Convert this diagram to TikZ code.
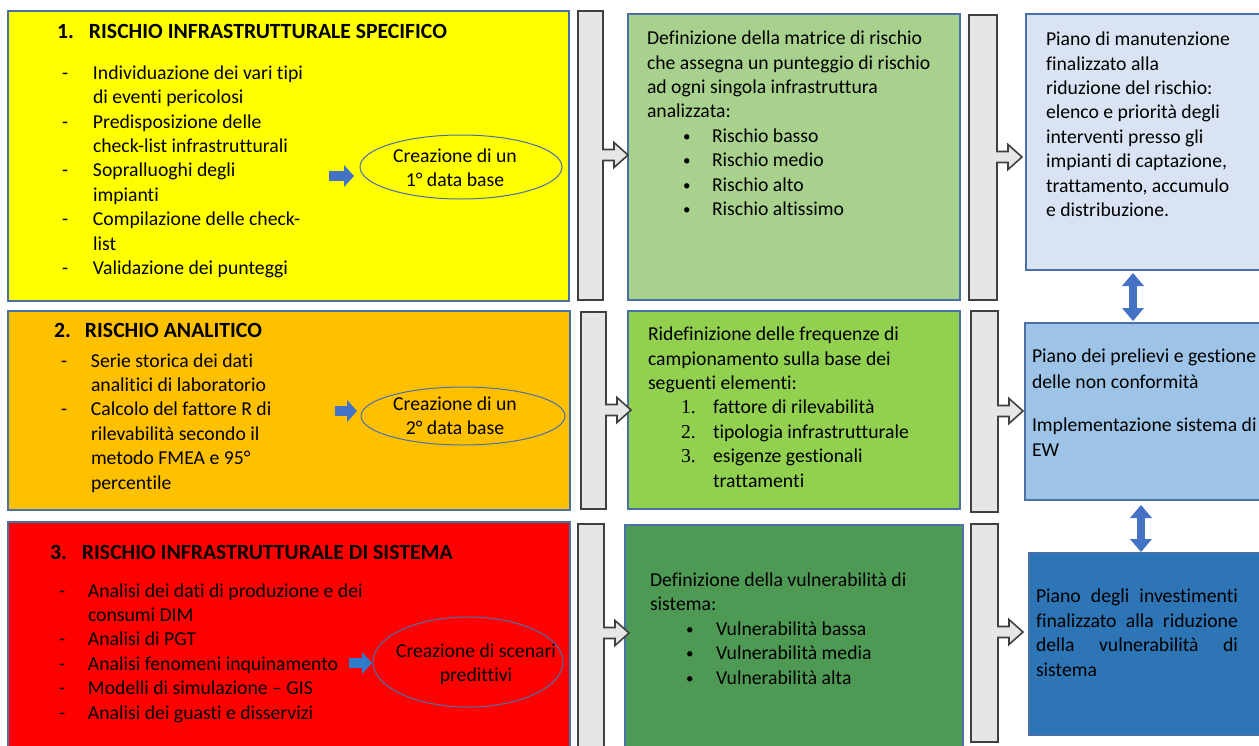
\documentclass[tikz,border=0pt]{standalone}
\usepackage{fontspec}
\setmainfont{Carlito}[Ligatures=NoCommon]
\newfontfamily\serifnum{Liberation Serif}
\usetikzlibrary{shapes.geometric,arrows.meta}
\definecolor{cYel}{HTML}{FFFF00}
\definecolor{cOra}{HTML}{FFC000}
\definecolor{cRed}{HTML}{FF0000}
\definecolor{cGrA}{HTML}{A9D18E}
\definecolor{cGrB}{HTML}{92D050}
\definecolor{cGrC}{HTML}{4E9A55}
\definecolor{cBlA}{HTML}{DAE3F3}
\definecolor{cBlB}{HTML}{9DC3E6}
\definecolor{cBlC}{HTML}{2E75B6}
\definecolor{cEdge}{HTML}{4A70A8}
\definecolor{cArr}{HTML}{4472C4}
\definecolor{cArrC}{HTML}{2E7CCB}
\definecolor{cBrkF}{HTML}{E6E6E6}
\definecolor{cBrkD}{HTML}{404040}
\newcommand\dashitem[2]{\makebox[#1][l]{-}#2}
\newcommand\contitem[2]{\hspace*{#1}#2}
\newcommand\smbullet{\raisebox{1pt}{\fontsize{15}{15}\selectfont •}}
\newcommand\bracketshape[5]{% left top right bottom arrow-y
  \draw[brkstyle] (#1,#2) -- (#3,#2) -- (#3,{#5-5.5}) -- ({#3+11},{#5-5.5}) -- ({#3+11},{#5-12.5})
    -- ({#3+25},#5) -- ({#3+11},{#5+12.5}) -- ({#3+11},{#5+5.5}) -- (#3,{#5+5.5}) -- (#3,#4) -- (#1,#4) -- cycle;}
\tikzset{
  box/.style={draw=cEdge, line width=1.1pt, anchor=north west, inner sep=0pt, outer sep=0pt},
  txt/.style={anchor=base west, align=left, inner sep=0pt, outer sep=0pt, yshift=-2pt},
  ttl/.style={anchor=base west, inner sep=0pt, outer sep=0pt, font=\fontsize{21.7}{26}\selectfont\bfseries},
  ctxt/.style={anchor=base, align=center, inner sep=0pt, outer sep=0pt, yshift=-1.5pt},
  oval/.style={ellipse, draw=cEdge, line width=1pt, inner sep=0pt, outer sep=0pt},
  brkstyle/.style={draw=cBrkD, fill=cBrkF, line width=1.6pt, line join=miter},
  blk/.style={draw=#1, line width=10pt, -{Triangle[width=22pt,length=10pt,line width=0pt]}},
  dbl/.style={draw=cArr, line width=8pt, {Triangle[width=22pt,length=13pt,line width=0pt]}-{Triangle[width=22pt,length=13pt,line width=0pt]}}
}
\begin{document}
\begin{tikzpicture}[x=1pt, y=-1pt, font=\fontsize{19.7}{24.4}\selectfont]
\useasboundingbox (0,0) rectangle (1259,745);
\fill[white] (0,0) rectangle (1259,745);

% ---------- boxes ----------
\node[box, fill=cYel, minimum width=561pt, minimum height=290pt] (y1) at (8,11) {};
\node[box, fill=cOra, minimum width=562pt, minimum height=199pt] (o2) at (8,311) {};
\node[box, fill=cRed, minimum width=562pt, minimum height=232pt] (r3) at (8,522) {};
\node[box, fill=cGrA, minimum width=332pt, minimum height=286pt] (g1) at (628,14) {};
\node[box, fill=cGrB, minimum width=332pt, minimum height=198pt] (g2) at (628,311) {};
\node[box, fill=cGrC, minimum width=338pt, minimum height=228pt] (g3) at (625,525) {};
\node[box, fill=cBlA, minimum width=245pt, minimum height=256pt] (bA) at (1026,14) {};
\node[box, fill=cBlB, minimum width=245pt, minimum height=177pt] (bB) at (1025,323) {};
\node[box, fill=cBlC, minimum width=241pt, minimum height=182pt] (bC) at (1029,553) {};

% ---------- bracket arrows ----------
\bracketshape{578}{11}{603}{300}{155}
\bracketshape{581}{312}{606}{509}{410}
\bracketshape{578}{524}{604}{750}{633}
\bracketshape{969}{15}{997}{300}{157}
\bracketshape{971}{311}{998}{512}{411}
\bracketshape{971}{524}{998}{742}{632}

% ---------- row 1 ----------
\node[ttl] (t1) at (57,38) {\makebox[32pt][l]{1.}RISCHIO INFRASTRUTTURALE SPECIFICO};
\node[txt] (l1) at (62,272.5) {\dashitem{31pt}{Individuazione dei vari tipi}\\
  \contitem{31pt}{di eventi pericolosi}\\
  \dashitem{31pt}{Predisposizione delle}\\
  \contitem{31pt}{check-list infrastrutturali}\\
  \dashitem{31pt}{Sopralluoghi degli}\\
  \contitem{31pt}{impianti}\\
  \dashitem{31pt}{Compilazione delle check-}\\
  \contitem{31pt}{list}\\
  \dashitem{31pt}{Validazione dei punteggi}};
\node[oval, minimum width=202pt, minimum height=64pt] (e1) at (461,167) {};
\node[ctxt] (c1) at (455,185.4) {Creazione di un\\1° data base};
\coordinate (s1) at (329,176);
\draw[blk=cArr, shorten >=6pt] (s1) -- (s1 -| e1.west);

% ---------- row 2 ----------
\node[ttl] (t2) at (54,337) {\makebox[31pt][l]{2.}RISCHIO ANALITICO};
\node[txt] (l2) at (61,487) {\dashitem{30pt}{Serie storica dei dati}\\
  \contitem{30pt}{analitici di laboratorio}\\
  \dashitem{30pt}{Calcolo del fattore R di}\\
  \contitem{30pt}{rilevabilità secondo il}\\
  \contitem{30pt}{metodo FMEA e 95°}\\
  \contitem{30pt}{percentile}};
\node[oval, minimum width=204pt, minimum height=58pt] (e2) at (463,416) {};
\node[ctxt] (c2) at (455,433) {Creazione di un\\2° data base};
\coordinate (s2) at (335,411);
\draw[blk=cArr, shorten >=4pt] (s2) -- (s2 -| e2.west);

% ---------- row 3 ----------
\node[ttl] (t3) at (50,559) {\makebox[32pt][l]{3.}RISCHIO INFRASTRUTTURALE DI SISTEMA};
\node[txt] (l3) at (59,717) {\dashitem{29pt}{Analisi dei dati di produzione e dei}\\
  \contitem{29pt}{consumi DIM}\\
  \dashitem{29pt}{Analisi di PGT}\\
  \dashitem{29pt}{Analisi fenomeni inquinamento}\\
  \dashitem{29pt}{Modelli di simulazione – GIS}\\
  \dashitem{29pt}{Analisi dei guasti e disservizi}};
\node[oval, minimum width=190pt, minimum height=90pt] (e3) at (468,662) {};
\node[ctxt] (c3) at (476,680) {Creazione di scenari\\predittivi};
\coordinate (s3) at (349,663);
\draw[blk=cArrC, shorten >=1pt] (s3) -- (s3 -| e3.west);

% ---------- middle column ----------
\node[txt] (m1) at (647,213.5) {Definizione della matrice di rischio\\
  che assegna un punteggio di rischio\\
  ad ogni singola infrastruttura\\
  analizzata:\\
  \hspace*{36pt}\makebox[29pt][l]{\smbullet}Rischio basso\\
  \hspace*{36pt}\makebox[29pt][l]{\smbullet}Rischio medio\\
  \hspace*{36pt}\makebox[29pt][l]{\smbullet}Rischio alto\\
  \hspace*{36pt}\makebox[29pt][l]{\smbullet}Rischio altissimo};
\node[txt] (m2) at (648,485) {Ridefinizione delle frequenze di\\
  campionamento sulla base dei\\
  seguenti elementi:\\
  \hspace*{33pt}\makebox[32pt][l]{\serifnum 1.}fattore di rilevabilità\\
  \hspace*{33pt}\makebox[32pt][l]{\serifnum 2.}tipologia infrastrutturale\\
  \hspace*{33pt}\makebox[32pt][l]{\serifnum 3.}esigenze gestionali\\
  \hspace*{65pt}trattamenti};
\node[txt] (m3) at (650,682) {Definizione della vulnerabilità di\\
  sistema:\\
  \hspace*{36pt}\makebox[30pt][l]{\smbullet}Vulnerabilità bassa\\
  \hspace*{36pt}\makebox[30pt][l]{\smbullet}Vulnerabilità media\\
  \hspace*{36pt}\makebox[30pt][l]{\smbullet}Vulnerabilità alta};

% ---------- right column ----------
\node[txt] (rA) at (1046,214.5) {Piano di manutenzione\\
  finalizzato alla\\
  riduzione del rischio:\\
  elenco e priorità degli\\
  interventi presso gli\\
  impianti di captazione,\\
  trattamento, accumulo\\
  e distribuzione.};
\node[txt, font=\fontsize{19.7}{26}\selectfont] (rB1) at (1032,386) {Piano dei prelievi e gestione\\delle non conformità};
\node[txt, font=\fontsize{19.7}{25}\selectfont] (rB2) at (1032,454) {Implementazione sistema di\\EW};
\node[txt] (rC) at (1036,674) {\makebox[202pt][s]{Piano degli investimenti}\\
  \makebox[202pt][s]{finalizzato alla riduzione}\\
  \makebox[202pt][s]{della vulnerabilità di}\\
  sistema};

% ---------- vertical double arrows ----------
\coordinate (a1) at (1133,0);
\coordinate (a2) at (1141,0);
\draw[dbl, shorten <=3pt, shorten >=2pt] (bA.south -| a1) -- (bB.north -| a1);
\draw[dbl, shorten <=5pt, shorten >=1pt] (bB.south -| a2) -- (bC.north -| a2);
\end{tikzpicture}
\end{document}
